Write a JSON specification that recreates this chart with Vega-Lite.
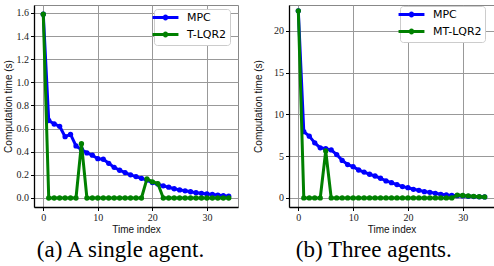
{
  "$schema": "https://vega.github.io/schema/vega-lite/v6.json",
  "padding": {"left": 2, "top": 4, "right": 2, "bottom": 2},
  "spacing": 51,
  "bounds": "flush",
  "background": "white",
  "resolve": {"scale": {"color": "independent"}, "legend": {"color": "independent"}},
  "config": {
    "view": {"stroke": "#888", "strokeWidth": 1},
    "axis": {
      "grid": true, "gridColor": "#999999", "gridWidth": 1, "gridOpacity": 1, "gridDash": [],
      "domainColor": "#000", "domainWidth": 1.3,
      "tickColor": "#000", "tickSize": 3.5, "tickWidth": 1,
      "labelFont": "Liberation Serif", "labelFontSize": 10, "labelColor": "#222", "labelPadding": 2,
      "titleFont": "Liberation Sans", "titleFontSize": 10, "titleFontWeight": "normal", "titleColor": "#111"
    },
    "legend": {
      "orient": "none", "title": null,
      "fillColor": "white", "strokeColor": "#cccccc", "cornerRadius": 3, "padding": 3,
      "labelFont": "DejaVu Sans", "labelFontSize": 11, "labelColor": "#000", "labelLimit": 200,
      "symbolType": "M-3.7,0H3.7M-0.4,0A0.4,0.4,0,1,1,0.4,0A0.4,0.4,0,1,1,-0.4,0",
      "symbolSize": 49, "symbolStrokeWidth": 3, "symbolFillColor": "transparent",
      "labelOffset": 16, "rowPadding": 2, "symbolOffset": 3
    },
    "title": {"font": "Liberation Serif", "fontSize": 23, "fontWeight": "normal", "color": "#000", "frame": "bounds"}
  },
  "datasets": {
    "a": [
      {"t": 0, "m": "MPC", "v": 1.59}, {"t": 1, "m": "MPC", "v": 0.67}, {"t": 2, "m": "MPC", "v": 0.64}, {"t": 3, "m": "MPC", "v": 0.62},
      {"t": 4, "m": "MPC", "v": 0.53}, {"t": 5, "m": "MPC", "v": 0.55}, {"t": 6, "m": "MPC", "v": 0.45}, {"t": 7, "m": "MPC", "v": 0.42},
      {"t": 8, "m": "MPC", "v": 0.39}, {"t": 9, "m": "MPC", "v": 0.37}, {"t": 10, "m": "MPC", "v": 0.34}, {"t": 11, "m": "MPC", "v": 0.335},
      {"t": 12, "m": "MPC", "v": 0.3}, {"t": 13, "m": "MPC", "v": 0.265}, {"t": 14, "m": "MPC", "v": 0.24}, {"t": 15, "m": "MPC", "v": 0.22},
      {"t": 16, "m": "MPC", "v": 0.2}, {"t": 17, "m": "MPC", "v": 0.185}, {"t": 18, "m": "MPC", "v": 0.17}, {"t": 19, "m": "MPC", "v": 0.155},
      {"t": 20, "m": "MPC", "v": 0.133}, {"t": 21, "m": "MPC", "v": 0.12}, {"t": 22, "m": "MPC", "v": 0.105}, {"t": 23, "m": "MPC", "v": 0.093},
      {"t": 24, "m": "MPC", "v": 0.08}, {"t": 25, "m": "MPC", "v": 0.07}, {"t": 26, "m": "MPC", "v": 0.062}, {"t": 27, "m": "MPC", "v": 0.054},
      {"t": 28, "m": "MPC", "v": 0.046}, {"t": 29, "m": "MPC", "v": 0.04}, {"t": 30, "m": "MPC", "v": 0.035}, {"t": 31, "m": "MPC", "v": 0.03},
      {"t": 32, "m": "MPC", "v": 0.025}, {"t": 33, "m": "MPC", "v": 0.02}, {"t": 34, "m": "MPC", "v": 0.016},
      {"t": 0, "m": "T-LQR2", "v": 1.59}, {"t": 1, "m": "T-LQR2", "v": 0}, {"t": 2, "m": "T-LQR2", "v": 0}, {"t": 3, "m": "T-LQR2", "v": 0},
      {"t": 4, "m": "T-LQR2", "v": 0}, {"t": 5, "m": "T-LQR2", "v": 0}, {"t": 6, "m": "T-LQR2", "v": 0}, {"t": 7, "m": "T-LQR2", "v": 0.47},
      {"t": 8, "m": "T-LQR2", "v": 0}, {"t": 9, "m": "T-LQR2", "v": 0}, {"t": 10, "m": "T-LQR2", "v": 0}, {"t": 11, "m": "T-LQR2", "v": 0},
      {"t": 12, "m": "T-LQR2", "v": 0}, {"t": 13, "m": "T-LQR2", "v": 0}, {"t": 14, "m": "T-LQR2", "v": 0}, {"t": 15, "m": "T-LQR2", "v": 0},
      {"t": 16, "m": "T-LQR2", "v": 0}, {"t": 17, "m": "T-LQR2", "v": 0}, {"t": 18, "m": "T-LQR2", "v": 0}, {"t": 19, "m": "T-LQR2", "v": 0.165},
      {"t": 20, "m": "T-LQR2", "v": 0.14}, {"t": 21, "m": "T-LQR2", "v": 0.125}, {"t": 22, "m": "T-LQR2", "v": 0}, {"t": 23, "m": "T-LQR2", "v": 0},
      {"t": 24, "m": "T-LQR2", "v": 0}, {"t": 25, "m": "T-LQR2", "v": 0}, {"t": 26, "m": "T-LQR2", "v": 0}, {"t": 27, "m": "T-LQR2", "v": 0},
      {"t": 28, "m": "T-LQR2", "v": 0}, {"t": 29, "m": "T-LQR2", "v": 0}, {"t": 30, "m": "T-LQR2", "v": 0}, {"t": 31, "m": "T-LQR2", "v": 0},
      {"t": 32, "m": "T-LQR2", "v": 0}, {"t": 33, "m": "T-LQR2", "v": 0}, {"t": 34, "m": "T-LQR2", "v": 0}
    ],
    "b": [
      {"t": 0, "m": "MPC", "v": 22.4}, {"t": 1, "m": "MPC", "v": 7.94}, {"t": 2, "m": "MPC", "v": 7.4}, {"t": 3, "m": "MPC", "v": 6.6},
      {"t": 4, "m": "MPC", "v": 6.0}, {"t": 5, "m": "MPC", "v": 5.9}, {"t": 6, "m": "MPC", "v": 5.75}, {"t": 7, "m": "MPC", "v": 5.2},
      {"t": 8, "m": "MPC", "v": 4.5}, {"t": 9, "m": "MPC", "v": 4.0}, {"t": 10, "m": "MPC", "v": 3.75}, {"t": 11, "m": "MPC", "v": 3.35},
      {"t": 12, "m": "MPC", "v": 3.1}, {"t": 13, "m": "MPC", "v": 2.84}, {"t": 14, "m": "MPC", "v": 2.63}, {"t": 15, "m": "MPC", "v": 2.36},
      {"t": 16, "m": "MPC", "v": 2.04}, {"t": 17, "m": "MPC", "v": 1.83}, {"t": 18, "m": "MPC", "v": 1.6}, {"t": 19, "m": "MPC", "v": 1.36},
      {"t": 20, "m": "MPC", "v": 1.23}, {"t": 21, "m": "MPC", "v": 1.04}, {"t": 22, "m": "MPC", "v": 0.92}, {"t": 23, "m": "MPC", "v": 0.76},
      {"t": 24, "m": "MPC", "v": 0.68}, {"t": 25, "m": "MPC", "v": 0.56}, {"t": 26, "m": "MPC", "v": 0.44}, {"t": 27, "m": "MPC", "v": 0.36},
      {"t": 28, "m": "MPC", "v": 0.32}, {"t": 29, "m": "MPC", "v": 0.28}, {"t": 30, "m": "MPC", "v": 0.24}, {"t": 31, "m": "MPC", "v": 0.2},
      {"t": 32, "m": "MPC", "v": 0.17}, {"t": 33, "m": "MPC", "v": 0.14}, {"t": 34, "m": "MPC", "v": 0.12},
      {"t": 0, "m": "MT-LQR2", "v": 22.4}, {"t": 1, "m": "MT-LQR2", "v": 0}, {"t": 2, "m": "MT-LQR2", "v": 0}, {"t": 3, "m": "MT-LQR2", "v": 0},
      {"t": 4, "m": "MT-LQR2", "v": 0}, {"t": 5, "m": "MT-LQR2", "v": 5.63}, {"t": 6, "m": "MT-LQR2", "v": 0}, {"t": 7, "m": "MT-LQR2", "v": 0},
      {"t": 8, "m": "MT-LQR2", "v": 0}, {"t": 9, "m": "MT-LQR2", "v": 0}, {"t": 10, "m": "MT-LQR2", "v": 0}, {"t": 11, "m": "MT-LQR2", "v": 0},
      {"t": 12, "m": "MT-LQR2", "v": 0}, {"t": 13, "m": "MT-LQR2", "v": 0}, {"t": 14, "m": "MT-LQR2", "v": 0}, {"t": 15, "m": "MT-LQR2", "v": 0},
      {"t": 16, "m": "MT-LQR2", "v": 0}, {"t": 17, "m": "MT-LQR2", "v": 0}, {"t": 18, "m": "MT-LQR2", "v": 0}, {"t": 19, "m": "MT-LQR2", "v": 0},
      {"t": 20, "m": "MT-LQR2", "v": 0}, {"t": 21, "m": "MT-LQR2", "v": 0}, {"t": 22, "m": "MT-LQR2", "v": 0}, {"t": 23, "m": "MT-LQR2", "v": 0},
      {"t": 24, "m": "MT-LQR2", "v": 0}, {"t": 25, "m": "MT-LQR2", "v": 0}, {"t": 26, "m": "MT-LQR2", "v": 0}, {"t": 27, "m": "MT-LQR2", "v": 0},
      {"t": 28, "m": "MT-LQR2", "v": 0}, {"t": 29, "m": "MT-LQR2", "v": 0.35}, {"t": 30, "m": "MT-LQR2", "v": 0.3}, {"t": 31, "m": "MT-LQR2", "v": 0.25},
      {"t": 32, "m": "MT-LQR2", "v": 0.2}, {"t": 33, "m": "MT-LQR2", "v": 0.15}, {"t": 34, "m": "MT-LQR2", "v": 0.12}
    ]
  },
  "hconcat": [
    {
      "width": 204, "height": 202,
      "title": {"text": "(a) A single agent.", "orient": "bottom", "anchor": "middle", "offset": 4},
      "data": {"name": "a"},
      "encoding": {
        "x": {"field": "t", "type": "quantitative", "scale": {"domain": [-1.7, 35.7], "nice": false, "zero": false},
              "axis": {"grid": true, "values": [0, 10, 20, 30], "title": "Time index", "titlePadding": 2}},
        "y": {"field": "v", "type": "quantitative", "scale": {"domain": [-0.078, 1.669], "nice": false, "zero": false},
              "axis": {"grid": true, "values": [0, 0.2, 0.4, 0.6, 0.8, 1.0, 1.2, 1.4, 1.6], "format": ".1f", "title": "Computation time (s)", "titlePadding": 3}},
        "color": {"field": "m", "type": "nominal",
                  "scale": {"domain": ["MPC", "T-LQR2"], "range": ["#0000ff", "#008000"]},
                  "legend": {"legendX": 120, "legendY": 4}}
      },
      "layer": [
        {"transform": [{"filter": "datum.m == 'MPC'"}], "mark": {"type": "line", "strokeWidth": 3, "strokeJoin": "round"}},
        {"transform": [{"filter": "datum.m == 'MPC'"}], "mark": {"type": "circle", "size": 28, "opacity": 1}},
        {"transform": [{"filter": "datum.m == 'T-LQR2'"}], "mark": {"type": "line", "strokeWidth": 3, "strokeJoin": "round"}},
        {"transform": [{"filter": "datum.m == 'T-LQR2'"}], "mark": {"type": "circle", "size": 28, "opacity": 1}}
      ]
    },
    {
      "width": 205, "height": 202,
      "title": {"text": "(b) Three agents.", "orient": "bottom", "anchor": "middle", "offset": 4},
      "data": {"name": "b"},
      "encoding": {
        "x": {"field": "t", "type": "quantitative", "scale": {"domain": [-1.7, 35.7], "nice": false, "zero": false},
              "axis": {"grid": true, "values": [0, 10, 20, 30], "title": "Time index", "titlePadding": 2}},
        "y": {"field": "v", "type": "quantitative", "scale": {"domain": [-1.08, 23.1], "nice": false, "zero": false},
              "axis": {"grid": true, "values": [0, 5, 10, 15, 20], "format": "d", "title": "Computation time (s)", "titlePadding": 10}},
        "color": {"field": "m", "type": "nominal",
                  "scale": {"domain": ["MPC", "MT-LQR2"], "range": ["#0000ff", "#008000"]},
                  "legend": {"legendX": 111, "legendY": 1}}
      },
      "layer": [
        {"transform": [{"filter": "datum.m == 'MPC'"}], "mark": {"type": "line", "strokeWidth": 3, "strokeJoin": "round"}},
        {"transform": [{"filter": "datum.m == 'MPC'"}], "mark": {"type": "circle", "size": 28, "opacity": 1}},
        {"transform": [{"filter": "datum.m == 'MT-LQR2'"}], "mark": {"type": "line", "strokeWidth": 3, "strokeJoin": "round"}},
        {"transform": [{"filter": "datum.m == 'MT-LQR2'"}], "mark": {"type": "circle", "size": 28, "opacity": 1}}
      ]
    }
  ]
}
